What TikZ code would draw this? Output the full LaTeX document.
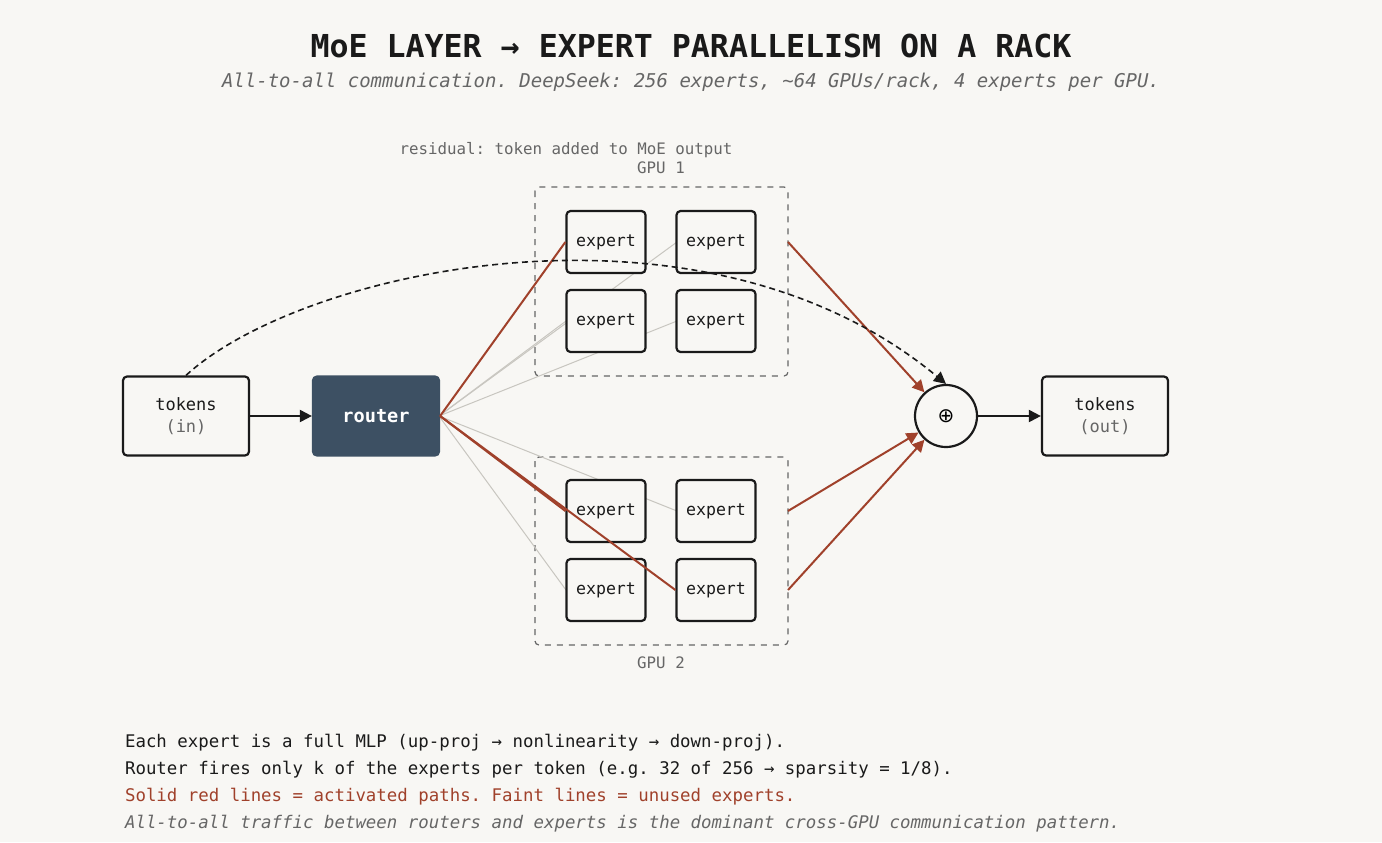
\documentclass[tikz,border=0pt]{standalone}
\usepackage{fontspec}
\setmonofont{DejaVu Sans Mono}
\newfontfamily\symfont{DejaVu Sans}
\usetikzlibrary{arrows.meta,positioning}
\definecolor{bg}{HTML}{F8F7F4}
\definecolor{ink}{HTML}{1A1A1A}
\definecolor{act}{HTML}{A0412B}
\definecolor{faint}{HTML}{C8C6C0}
\definecolor{slate}{HTML}{3D5063}
\definecolor{muted}{HTML}{666666}
\tikzset{
  box/.style={draw=ink,line width=1.1pt,rounded corners=2pt,fill=bg,minimum width=63pt,minimum height=39.5pt,align=center,font=\ttfamily\fontsize{8.5}{12}\selectfont,text=ink},
  expert/.style={draw=ink,line width=1.1pt,rounded corners=2pt,fill=bg,minimum width=39.5pt,minimum height=31pt,font=\ttfamily\fontsize{8.3}{9}\selectfont,text=ink},
  gpu/.style={draw=muted,dashed,line width=0.6pt,rounded corners=2pt},
  used/.style={draw=act,line width=1pt},
  unused/.style={draw=faint,line width=0.5pt},
  lbl/.style={font=\ttfamily\fontsize{7.9}{9}\selectfont,text=muted},
  note/.style={font=\ttfamily\fontsize{8.7}{10}\selectfont,anchor=west,text=ink},
  tip/.style={-{Triangle[length=6pt,width=6pt]}}
}
\begin{document}
\begin{tikzpicture}[x=0.5pt,y=-0.5pt]
  \fill[bg] (0,0) rectangle (1382,842);
  \useasboundingbox (0,0) rectangle (1382,842);

  \node[font=\ttfamily\bfseries\fontsize{15.8}{18}\selectfont,text=ink] (title) at (691,46) {MoE LAYER → EXPERT PARALLELISM ON A RACK};
  \node[font=\ttfamily\itshape\fontsize{9.5}{11}\selectfont,text=muted] (sub) at (691,82) {All-to-all communication. DeepSeek: 256 experts, \textasciitilde64 GPUs/rack, 4 experts per GPU.};

  % GPU groups
  \draw[gpu] (535,187) rectangle (788,376);
  \draw[gpu] (535,457) rectangle (788,645);
  \node[lbl] (g1) at (661,168) {GPU 1};
  \node[lbl] (g2) at (661,663) {GPU 2};
  \node[lbl] (res) at (566,150) {residual: token added to MoE output};
  \coordinate (o1) at (788,242);
  \coordinate (o2) at (788,511);
  \coordinate (o3) at (788,590);

  % unused routes first
  \coordinate (r) at (439,416);
  \foreach \x/\y in {677/242,566/321,677/321,677/511,566/590}
    \draw[unused] (r) -- (\x,\y);

  \node[expert] (e11) at (606,242) {expert};
  \node[expert] (e12) at (716,242) {expert};
  \node[expert] (e13) at (606,321) {expert};
  \node[expert] (e14) at (716,321) {expert};
  \node[expert] (e21) at (606,511) {expert};
  \node[expert] (e22) at (716,511) {expert};
  \node[expert] (e23) at (606,590) {expert};
  \node[expert] (e24) at (716,590) {expert};

  \node[box] (tin) at (186,416) {tokens\\[-1pt]\textcolor{muted}{(in)}};
  \node[box,fill=slate,draw=slate,text=white,font=\ttfamily\bfseries\fontsize{9.3}{11}\selectfont] (router) at (376,416) {router};
  \node[circle,draw=ink,line width=1.1pt,fill=bg,minimum size=31pt,inner sep=0pt,font=\symfont\fontsize{10}{10}\selectfont] (sum) at (946,416) {⊕};
  \node[box] (tout) at (1105,416) {tokens\\[-1pt]\textcolor{muted}{(out)}};

  % activated routes
  \draw[used] (router.east) -- (e11.west);
  \draw[used] (router.east) -- (e21.west);
  \draw[used] (router.east) -- (e24.west);
  \draw[used,tip] (o1) -- (sum);
  \draw[used,tip] (o2) -- (sum);
  \draw[used,tip] (o3) -- (sum);

  \draw[ink,line width=1pt,tip] (tin) -- (router);
  \draw[ink,line width=1pt,tip] (sum) -- (tout);
  \draw[ink,line width=0.8pt,dash pattern=on 3pt off 2pt,tip] (tin.north) .. controls (300,270) and (700,180) .. (sum.north);

  \node[note] (n1) at (118,743) {Each expert is a full MLP (up-proj → nonlinearity → down-proj).};
  \node[note] (n2) at (118,770) {Router fires only k of the experts per token (e.g. 32 of 256 → sparsity = 1/8).};
  \node[note,text=act] (n3) at (118,797) {Solid red lines = activated paths. Faint lines = unused experts.};
  \node[note,text=muted,font=\ttfamily\itshape\fontsize{8.7}{10}\selectfont] (n4) at (118,824) {All-to-all traffic between routers and experts is the dominant cross-GPU communication pattern.};
\end{tikzpicture}
\end{document}
